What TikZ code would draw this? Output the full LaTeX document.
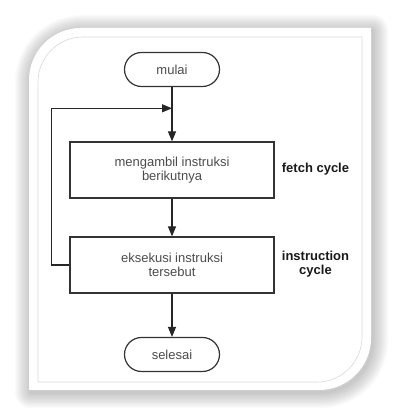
\documentclass[tikz,border=0pt]{standalone}
\usepackage{fontspec}
\setmainfont{Liberation Sans}
\usetikzlibrary{arrows.meta}

\tikzset{
  term/.style={draw=black!80, line width=1.2pt, rounded corners=17pt, minimum width=95pt, minimum height=34pt, inner sep=0pt, font=\fontsize{13}{14}\selectfont, text=black!70},
  proc/.style={draw=black!80, line width=1.2pt, minimum width=204pt, minimum height=56pt, inner sep=0pt, align=center, font=\fontsize{13}{14}\selectfont, text=black!70},
  cyc/.style={align=center, font=\fontsize{13}{14}\selectfont\bfseries, text=black!90},
  flow/.style={draw=black!85, line width=1.2pt, -{Triangle[length=10pt,width=8pt]}}
}

\begin{document}
\begin{tikzpicture}[x=1pt,y=1pt]

\useasboundingbox (0,0) rectangle (400,417);

\foreach \i in {1,...,12}
  \draw[black, opacity=0.02, line width=\i*2.6pt, line join=round, shift={(1.5,-2.5)}]
    (29,27) -- (29,337) arc[start angle=180, end angle=90, radius=52] -- (371,389) -- (371,79) arc[start angle=0, end angle=-90, radius=52] -- cycle;
\fill[white] (29,27) -- (29,337) arc[start angle=180, end angle=90, radius=52] -- (371,389) -- (371,79) arc[start angle=0, end angle=-90, radius=52] -- cycle;
\draw[black!15, line width=0.6pt] (38,35) -- (38,335) arc[start angle=180, end angle=90, radius=45] -- (362,380) -- (362,80) arc[start angle=0, end angle=-90, radius=45] -- cycle;

\node[term] (start) at (172,347.5) {mulai};
\node[proc] (fetch) at (172,247) {mengambil instruksi\\berikutnya};
\node[proc] (exec) at (172,152) {eksekusi instruksi\\tersebut};
\node[term] (stop) at (172,62.5) {selesai};
\node[cyc] (fetchlbl) at (315.5,248) {fetch cycle};
\node[cyc] (execlbl) at (315.5,153) {instruction\\cycle};

\coordinate (ret) at (51.7,308.7);
\coordinate (join) at (172,308.7);

\draw[flow] (start) -- (fetch);
\draw[flow] (fetch) -- (exec);
\draw[flow] (exec) -- (stop);
\draw[flow] (exec.west) -| (ret) -- (join);

\end{tikzpicture}
\end{document}
